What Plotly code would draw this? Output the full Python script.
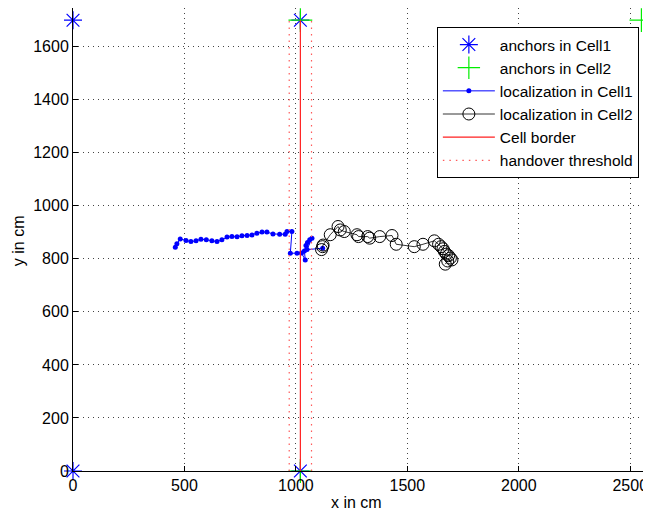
import plotly.graph_objects as go

# ---- data ----
anchor1_x = [0, 0, 1020, 1020]
anchor1_y = [0, 1700, 1700, 0]
anchor2_x = [1020, 1020, 2550]
anchor2_y = [1700, 0, 1700]

cell1_x = [459, 466, 481, 507, 529, 552, 574, 598, 623, 646, 668, 691, 713, 736, 758, 781,
           803, 825, 848, 870, 897, 927, 952, 960, 982, 975, 1005, 1025, 1042, 1038, 1045,
           1052, 1062, 1072, 1050, 1120]
cell1_y = [844, 857, 875, 869, 865, 868, 874, 872, 868, 865, 872, 882, 884, 883, 887, 888,
           890, 897, 901, 901, 894, 893, 893, 903, 903, 821, 821, 822, 796, 830, 850,
           862, 872, 878, 835, 840]

cell2_x = [1115, 1120, 1122, 1154, 1189, 1199, 1217, 1274, 1281, 1322, 1331, 1376, 1431, 1450,
           1531, 1570, 1621, 1640, 1651, 1660, 1666, 1675, 1685, 1693, 1700, 1681, 1670]
cell2_y = [835, 846, 852, 891, 922, 909, 903, 891, 884, 884, 878, 884, 888, 855,
           846, 855, 868, 855, 846, 838, 828, 818, 812, 803, 796, 792, 780]

border_x = 1020
threshold_x = [970, 1070]
y_extent = [0, 1700]

x_ticks = [0, 500, 1000, 1500, 2000, 2500]
y_ticks = [0, 200, 400, 600, 800, 1000, 1200, 1400, 1600]

# ---- figure ----
fig = go.Figure()

thr_x, thr_y = [], []
for tx in threshold_x:
    thr_x += [tx, tx, None]
    thr_y += [y_extent[0], y_extent[1], None]

fig.add_trace(go.Scatter(x=anchor1_x, y=anchor1_y, mode="markers", name="anchors in Cell1",
                         marker=dict(symbol="asterisk-open", size=15, color="#0000ff",
                                     line=dict(width=1.2, color="#0000ff")),
                         cliponaxis=False, legendrank=1))
fig.add_trace(go.Scatter(x=anchor2_x, y=anchor2_y, mode="markers", name="anchors in Cell2",
                         marker=dict(symbol="cross-thin-open", size=17, color="#00ee00",
                                     line=dict(width=1.2, color="#00ee00")),
                         cliponaxis=False, legendrank=2))
fig.add_trace(go.Scatter(x=cell1_x, y=cell1_y, mode="lines+markers",
                         name="localization in Cell1",
                         line=dict(color="#0000ff", width=1),
                         marker=dict(symbol="circle", size=5, color="#0000ff"),
                         legendrank=3))
fig.add_trace(go.Scatter(x=cell2_x, y=cell2_y, mode="lines+markers",
                         name="localization in Cell2",
                         line=dict(color="black", width=0.8),
                         marker=dict(symbol="circle-open", size=12, color="black",
                                     line=dict(width=1, color="black")),
                         legendrank=4))
fig.add_trace(go.Scatter(x=[border_x, border_x], y=y_extent, mode="lines", name="Cell border",
                         line=dict(color="#ff2020", width=1.2), legendrank=5))
fig.add_trace(go.Scatter(x=thr_x, y=thr_y, mode="lines", name="handover threshold",
                         line=dict(color="#ff5a5a", width=1.2, dash="1.5px,5px"),
                         legendrank=6))

font_family = "Liberation Sans, Arial, Helvetica, sans-serif"

# The page body adds an 8px offset; size the figure so the plot area lands where the
# reference has it (x: 73..651, y: 8..471 in window pixels).
fig.update_layout(
    width=643, height=503,
    margin=dict(l=65, r=0, t=0, b=40, autoexpand=False),
    paper_bgcolor="white", plot_bgcolor="white",
    font=dict(family=font_family, size=16, color="black"),
    showlegend=True,
    legend=dict(x=0.979, y=0.959, xanchor="right", yanchor="top",
                bgcolor="white", bordercolor="black", borderwidth=1,
                font=dict(size=15.5), itemwidth=52, traceorder="normal",
                tracegroupgap=0),
    annotations=[
        dict(text="x in cm", xref="paper", yref="paper", x=0.49, y=-0.067,
             xanchor="center", yanchor="middle", showarrow=False, font=dict(size=16)),
        dict(text="y in cm", xref="paper", yref="paper", x=-0.093, y=0.497,
             xanchor="center", yanchor="middle", textangle=-90, showarrow=False,
             font=dict(size=16)),
    ],
)

fig.update_xaxes(range=[0, 2593], tickvals=x_ticks, ticks="inside", ticklen=5,
                 tickcolor="black", showline=True, linecolor="black", linewidth=1,
                 mirror=False, showgrid=True, gridcolor="#444", gridwidth=1,
                 griddash="1px,4px", zeroline=False, automargin=False,
                 tickfont=dict(size=16))
fig.update_yaxes(range=[0, 1746], tickvals=y_ticks, ticks="inside", ticklen=5,
                 tickcolor="black", showline=True, linecolor="black", linewidth=1,
                 mirror=False, showgrid=True, gridcolor="#444", gridwidth=1,
                 griddash="1px,4px", zeroline=False, automargin=False,
                 tickfont=dict(size=16))

fig.write_html("out.html")
